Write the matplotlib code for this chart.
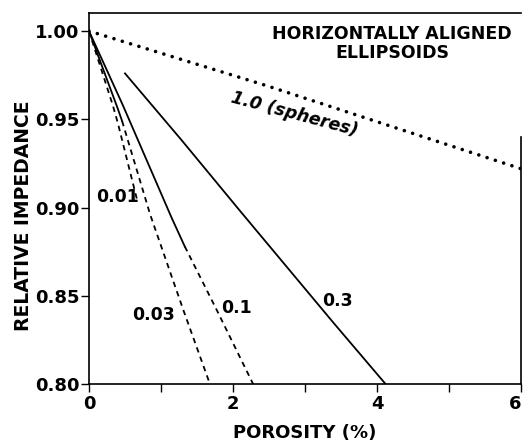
import matplotlib
matplotlib.use("Agg")
import matplotlib.pyplot as plt
from matplotlib.transforms import ScaledTranslation

plt.rcParams['font.family'] = ['DejaVu Sans']
plt.rcParams['font.weight'] = 'bold'
plt.rcParams['axes.labelweight'] = 'bold'

# curves: porosity (%) vs relative impedance
# aspect ratio 1.0 (spheres)
x_sph = [0.0, 2.47, 6.0]
y_sph = [1.0, 0.969, 0.922]
# aspect ratio 0.3
x_03 = [0.5, 1.29, 2.1, 3.39, 4.12]
y_03 = [0.976, 0.938, 0.898, 0.835, 0.80]
# aspect ratio 0.1 (solid part, then dashed part)
x_01_solid = [0.0, 0.47, 1.15, 1.33]
y_01_solid = [1.0, 0.958, 0.894, 0.878]
x_01_dash = [1.33, 1.78, 2.28]
y_01_dash = [0.878, 0.8415, 0.80]
# aspect ratio 0.03
x_003_solid = [0.0, 0.40, 0.46]
y_003_solid = [1.0, 0.956, 0.949]
x_003_dash = [0.46, 0.85, 1.31, 1.68]
y_003_dash = [0.949, 0.896, 0.842, 0.80]
# aspect ratio 0.01
x_001 = [0.0, 0.33, 0.40, 0.67]
y_001 = [1.0, 0.958, 0.948, 0.904]

xticks = [0, 2, 4, 6]
yticks = [0.80, 0.85, 0.90, 0.95, 1.00]

fig = plt.figure(figsize=(5.25, 4.41), dpi=100)
ax = fig.add_axes([0.1695, 0.129, 0.8229, 0.8415])

dash = (0, (3.0, 2.5))
ax.plot(x_sph, y_sph, color='black', lw=2.6, linestyle=(0, (0.01, 2.4)),
        dash_capstyle='round')
ax.plot(x_03, y_03, color='black', lw=1.3)
ax.plot(x_01_solid, y_01_solid, color='black', lw=1.3)
ax.plot(x_01_dash, y_01_dash, color='black', lw=1.3, linestyle=dash)
ax.plot(x_003_solid, y_003_solid, color='black', lw=1.3)
ax.plot(x_003_dash, y_003_dash, color='black', lw=1.3, linestyle=dash)
ax.plot(x_001, y_001, color='black', lw=1.3, linestyle=dash)

# curve labels
ax.text(2.85, 0.953, '1.0 (spheres)', rotation=-15, style='italic',
        fontsize=12.5, ha='center', va='center')
ax.text(0.39, 0.906, '0.01', fontsize=12.5, ha='center', va='center')
ax.text(0.90, 0.839, '0.03', fontsize=12.5, ha='center', va='center')
ax.text(2.05, 0.843, '0.1', fontsize=12.5, ha='center', va='center')
ax.text(3.45, 0.847, '0.3', fontsize=12.5, ha='center', va='center')
ax.text(4.21, 0.993, 'HORIZONTALLY ALIGNED\nELLIPSOIDS', fontsize=12.5,
        ha='center', va='center', linespacing=1.1)

ax.set_xlim(0, 6)
ax.set_ylim(0.80, 1.0102)
ax.set_xticks(xticks)
ax.set_xticks([1, 3, 5], minor=True)
ax.set_yticks(yticks)
ax.set_yticklabels(['%.2f' % v for v in yticks])
ax.tick_params(axis='both', which='both', direction='out', length=6,
               width=1, labelsize=13)
ax.tick_params(axis='y', pad=1)
ax.tick_params(axis='x', pad=2)
ax.spines['right'].set_bounds(0.80, 0.94)
for s in ax.spines.values():
    s.set_linewidth(1.2)

# keep the last x label ("6") inside the picture
last = ax.get_xticklabels()[-1]
last.set_transform(last.get_transform() +
                   ScaledTranslation(-4 / 72, 0, fig.dpi_scale_trans))

ax.set_xlabel('POROSITY (%)', fontsize=13, labelpad=8)
ax.set_ylabel('RELATIVE IMPEDANCE', fontsize=13.5)
ax.yaxis.set_label_coords(-0.13, 0.455)

fig.savefig('out.png', dpi=100)
